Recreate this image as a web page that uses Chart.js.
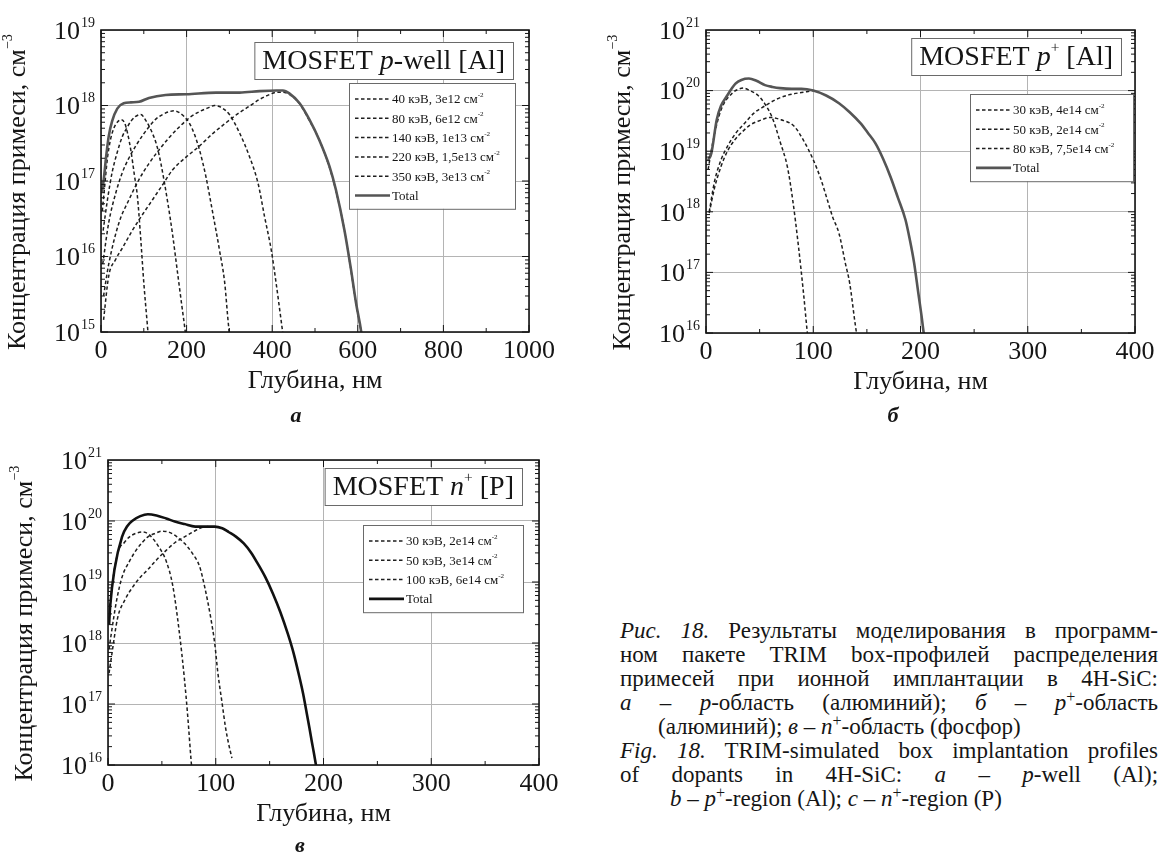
<!DOCTYPE html>
<html>
<head>
<meta charset="utf-8">
<script src="https://cdn.jsdelivr.net/npm/chart.js@4.4.1/dist/chart.umd.min.js"></script>
<style>
  body { margin: 0; background: #fff; width: 1160px; height: 855px; position: relative; overflow: hidden;
         font-family: "Liberation Serif", "Times New Roman", serif; color: #151515; }
  canvas { position: absolute; }
  #chartA { left: 0; top: 0; }
  #chartB { left: 580px; top: 0; }
  #chartC { left: 0; top: 430px; }
  .sub { position: absolute; font-weight: bold; font-style: italic; font-size: 22px; transform: translate(-50%, -50%); }
  .caption { position: absolute; left: 620px; top: 619px; width: 538px; font-size: 23px; line-height: 24px; }
  .caption div { text-align: justify; text-align-last: justify; white-space: nowrap; }
  .caption div.ind5 { text-align-last: left; padding-left: 38px; }
  .caption div.ind8 { text-align-last: left; padding-left: 50px; }
  .caption sup { font-size: 0.7em; line-height: 0; vertical-align: 0.5em; }
</style>
</head>
<body>
<canvas id="chartA" width="560" height="430"></canvas>
<canvas id="chartB" width="580" height="430"></canvas>
<canvas id="chartC" width="580" height="425"></canvas>

<div class="sub" style="left:296px;top:415px">а</div>
<div class="sub" style="left:893px;top:415px">б</div>
<div class="sub" style="left:300px;top:845px">в</div>

<div class="caption">
  <div><i>Рис. 18.</i> Результаты моделирования в программ-</div>
  <div>ном пакете TRIM box-профилей распределения</div>
  <div>примесей при ионной имплантации в 4H-SiC:</div>
  <div><i>а</i> – <i>p</i>-область (алюминий); <i>б</i> – <i>p</i><sup>+</sup>-область</div>
  <div class="ind5">(алюминий); <i>в</i> – <i>n</i><sup>+</sup>-область (фосфор)</div>
  <div><i>Fig. 18.</i> TRIM-simulated box implantation profiles</div>
  <div>of dopants in 4H-SiC: <i>a</i> – <i>p</i>-well (Al);</div>
  <div class="ind8"><i>b</i> – <i>p</i><sup>+</sup>-region (Al); <i>c</i> – <i>n</i><sup>+</sup>-region (P)</div>
</div>

<script>
// ---------- данные: график а (p-well, Al) ----------
const aDepth40 = [3, 8, 15, 22, 30, 38, 47, 55, 62, 70, 78, 85, 92, 100, 108, 112];
const aConc40 = [4.0e16, 7.9e16, 2.0e17, 3.5e17, 5.0e17, 6.0e17, 6.5e17, 5.9e17, 4.3e17, 2.5e17, 1.2e17, 6.3e16, 2.0e16, 4.5e15, 1.3e15, 7.0e14];

const aDepth80 = [5, 15, 26, 38, 50, 60, 70, 80, 93, 105, 120, 130, 140, 155, 167, 179, 189, 197, 200];
const aConc80 = [2.2e16, 5.6e16, 1.3e17, 2.4e17, 3.9e17, 5.0e17, 6.2e17, 7.1e17, 7.6e17, 6.3e17, 4.3e17, 3.0e17, 1.7e17, 5.6e16, 2.0e16, 6.0e15, 2.2e15, 1.0e15, 7.0e14];

const aDepth140 = [4, 18, 35, 50, 65, 81, 97, 112, 128, 144, 160, 171, 185, 206, 218, 230, 245, 261, 277, 289, 296, 302];
const aConc140 = [7.9e15, 2.8e16, 7.1e16, 1.3e17, 2.0e17, 2.9e17, 4.0e17, 5.2e17, 6.6e17, 7.6e17, 8.3e17, 8.5e17, 7.9e17, 5.9e17, 4.2e17, 2.6e17, 1.15e17, 3.8e16, 1.2e16, 4.5e15, 1.6e15, 7.0e14];

const aDepth220 = [6, 18, 42, 65, 89, 112, 136, 160, 183, 207, 230, 250, 265, 280, 300, 324, 347, 367, 382, 398, 409, 421, 428];
const aConc220 = [3.0e15, 7.9e15, 2.8e16, 5.6e16, 1.05e17, 1.7e17, 2.6e17, 3.8e17, 5.2e17, 6.9e17, 8.3e17, 9.3e17, 1.0e18, 9.5e17, 7.6e17, 4.3e17, 2.1e17, 9.3e16, 3.4e16, 1.2e16, 4.5e15, 1.4e15, 7.0e14];

const aDepth350 = [6, 18, 34, 50, 73, 97, 120, 145, 167, 200, 230, 260, 292, 320, 347, 370, 394, 410, 425, 440, 464, 487, 510, 534, 549, 569, 584, 596, 608, 612];
const aConc350 = [1.45e15, 5.5e15, 9.1e15, 1.3e16, 2.2e16, 3.6e16, 5.6e16, 9.1e16, 1.4e17, 2.1e17, 2.9e17, 4.2e17, 5.9e17, 7.8e17, 9.8e17, 1.2e18, 1.4e18, 1.5e18, 1.5e18, 1.4e18, 1.05e18, 6.3e17, 3.5e17, 1.5e17, 7.4e16, 2.2e16, 6.6e15, 2.3e15, 1.0e15, 7.0e14];

const aDepthTotal = [2, 6, 12, 18, 26, 38, 53, 70, 89, 112, 151, 200, 269, 324, 371, 410, 425, 440, 464, 487, 510, 534, 549, 569, 584, 596, 608, 612];
const aConcTotal = [7.1e16, 1.0e17, 2.1e17, 3.9e17, 6.2e17, 9.1e17, 1.07e18, 1.1e18, 1.12e18, 1.26e18, 1.38e18, 1.41e18, 1.48e18, 1.48e18, 1.55e18, 1.58e18, 1.58e18, 1.45e18, 1.07e18, 6.5e17, 3.5e17, 1.55e17, 7.6e16, 2.2e16, 6.8e15, 2.4e15, 1.0e15, 6.3e14];

const aLabels = ['40 кэВ, 3e12 см^-2', '80 кэВ, 6e12 см^-2', '140 кэВ, 1e13 см^-2', '220 кэВ, 1,5e13 см^-2', '350 кэВ, 3e13 см^-2', 'Total'];
const aXTicks = [0, 200, 400, 600, 800, 1000];
const aYTicks = [1e15, 1e16, 1e17, 1e18, 1e19];

// ---------- данные: график б (p+, Al) ----------
const bDepth30 = [2, 7, 14, 24, 30, 35, 41, 48, 55, 62, 69, 76, 81, 86, 91, 94.5, 97];
const bConc30 = [5.0e18, 1.6e19, 4.8e19, 8.9e19, 1.05e20, 1.1e20, 1.0e20, 8.5e19, 6.0e19, 3.5e19, 1.45e19, 5.4e18, 1.5e18, 2.9e17, 4.4e16, 1.0e16, 4.0e15];

const bDepth50 = [3, 8, 14, 20, 27, 34, 41, 50, 60, 70, 82, 91, 100, 107, 113, 118, 124, 130, 134, 139, 142];
const bConc50 = [9.5e17, 2.5e18, 5.6e18, 1.0e19, 1.55e19, 2.1e19, 2.7e19, 3.2e19, 3.6e19, 3.3e19, 2.6e19, 1.5e19, 7.2e18, 3.5e18, 1.6e18, 8.3e17, 4.4e17, 1.4e17, 6.6e16, 1.45e16, 6.3e15];

const bDepth80 = [3, 8, 14, 20, 27, 36, 45, 55, 65, 77, 89, 97, 100];
const bConc80 = [1.0e18, 3.2e18, 7.2e18, 1.2e19, 1.9e19, 2.9e19, 4.3e19, 5.6e19, 7.1e19, 8.5e19, 9.3e19, 9.8e19, 1.0e20];

const bDepthTotal = [2, 5, 10, 14, 19, 27.5, 33, 40, 47, 55, 62, 69, 80, 89, 100, 112, 124, 134, 144, 151, 158, 165, 172, 179, 186, 190, 194, 198, 201, 203, 205];
const bConcTotal = [7.1e18, 9.3e18, 3.3e19, 5.6e19, 7.9e19, 1.3e20, 1.5e20, 1.58e20, 1.45e20, 1.23e20, 1.15e20, 1.1e20, 1.07e20, 1.07e20, 1.0e20, 8.3e19, 6.2e19, 4.4e19, 2.9e19, 2.0e19, 1.35e19, 7.6e18, 3.8e18, 1.7e18, 7.4e17, 3.5e17, 1.45e17, 4.5e16, 1.9e16, 1.0e16, 6.3e15];

const bLabels = ['30 кэВ, 4e14 см^-2', '50 кэВ, 2e14 см^-2', '80 кэВ, 7,5e14 см^-2', 'Total'];
const bXTicks = [0, 100, 200, 300, 400];
const bYTicks = [1e16, 1e17, 1e18, 1e19, 1e20, 1e21];

// ---------- данные: график в (n+, P) ----------
const cDepth30 = [1, 3, 9, 15, 20, 26, 32, 38, 47, 54, 60, 66, 71, 74, 77, 79];
const cConc30 = [2.5e18, 6.5e18, 3.0e19, 4.4e19, 5.5e19, 6.3e19, 6.6e19, 6.0e19, 3.8e19, 2.2e19, 8.9e18, 1.6e18, 2.5e17, 6.3e16, 1.26e16, 5.0e15];

const cDepth50 = [1, 3, 8, 13, 20, 26, 32, 37, 44, 50, 57, 64, 71, 78, 85, 90, 95, 99, 102, 106, 109, 112, 115];
const cConc50 = [7.9e17, 1.4e18, 5.0e18, 1.2e19, 2.2e19, 3.3e19, 4.5e19, 5.5e19, 6.3e19, 6.8e19, 6.5e19, 5.5e19, 4.3e19, 3.0e19, 1.8e19, 7.9e18, 2.8e18, 1.0e18, 3.2e17, 1.0e17, 4.2e16, 2.2e16, 1.3e16];

const cDepth100 = [1, 3, 9, 16, 23, 30, 37, 45, 54, 62, 71, 80, 88, 93];
const cConc100 = [3.2e17, 5.6e17, 2.6e18, 5.2e18, 8.3e18, 1.2e19, 1.6e19, 2.3e19, 3.3e19, 4.4e19, 5.5e19, 6.8e19, 7.9e19, 8.1e19];

const cDepthTotal = [1, 2, 6, 13, 18, 23, 30, 37, 45, 54, 62, 71, 81, 90, 99, 106, 112, 119, 126, 133, 139, 146, 153, 160, 167, 172, 177, 181, 184, 187, 189, 191, 193, 195];
const cConcTotal = [2.0e18, 4.0e18, 1.6e19, 5.5e19, 8.3e19, 1.02e20, 1.2e20, 1.29e20, 1.23e20, 1.1e20, 9.8e19, 8.9e19, 8.1e19, 8.1e19, 8.1e19, 7.6e19, 6.6e19, 5.5e19, 4.3e19, 3.0e19, 2.0e19, 1.2e19, 6.5e18, 3.2e18, 1.4e18, 7.1e17, 3.1e17, 1.5e17, 7.8e16, 4.0e16, 2.5e16, 1.6e16, 1.0e16, 6.3e15];

const cLabels = ['30 кэВ, 2e14 см^-2', '50 кэВ, 3e14 см^-2', '100 кэВ, 6e14 см^-2', 'Total'];
const cXTicks = [0, 100, 200, 300, 400];
const cYTicks = [1e16, 1e17, 1e18, 1e19, 1e20, 1e21];

// ---------- оформление ----------
const FONT = '"Liberation Serif", "Times New Roman", serif';
Chart.defaults.font.family = FONT;

// геометрия каждой панели (в пикселях канваса)
const panels = {
  chartA: { plot: [101, 30, 529, 332], title: [16, 12], legend: [14, 53, 166],
            titleRuns: [{ t: 'MOSFET ' }, { t: 'p', it: true }, { t: '-well [Al]' }] },
  chartB: { plot: [126, 30, 555, 333], title: [14, 8], legend: [2, 64, 163],
            titleRuns: [{ t: 'MOSFET ' }, { t: 'p', it: true }, { t: '+', sup: true }, { t: ' [Al]' }] },
  chartC: { plot: [108, 30, 539, 335], title: [17, 8], legend: [16, 65, 160],
            titleRuns: [{ t: 'MOSFET ' }, { t: 'n', it: true }, { t: '+', sup: true }, { t: ' [P]' }] }
};

function runsWidth(ctx, runs, size) {
  let w = 0;
  for (const r of runs) {
    ctx.font = (r.it ? 'italic ' : '') + (r.sup ? size * 0.55 : size) + 'px ' + FONT;
    w += ctx.measureText(r.t).width;
  }
  return w;
}

function drawRuns(ctx, runs, x, y, size) {
  let cx = x;
  ctx.textAlign = 'left';
  ctx.textBaseline = 'middle';
  for (const r of runs) {
    ctx.font = (r.it ? 'italic ' : '') + (r.sup ? size * 0.55 : size) + 'px ' + FONT;
    ctx.fillText(r.t, cx, r.sup ? y - size * 0.36 : y);
    cx += ctx.measureText(r.t).width;
  }
}

function labelRuns(label) {
  const parts = label.split('^');
  const runs = [{ t: parts[0] }];
  if (parts[1]) runs.push({ t: parts[1], sup: true });
  return runs;
}

function seg(ctx, x1, y1, x2, y2) {
  ctx.beginPath(); ctx.moveTo(x1, y1); ctx.lineTo(x2, y2); ctx.stroke();
}

// рамка, внутренние засечки, подписи осей, заголовок и легенда
const decorPlugin = {
  id: 'decor',
  afterDraw(chart) {
    const cfg = panels[chart.canvas.id];
    const ctx = chart.ctx;
    const A = chart.chartArea;
    const xs = chart.scales.x, ys = chart.scales.y;
    ctx.save();
    ctx.fillStyle = '#151515';
    ctx.strokeStyle = '#151515';

    // засечки по Y (декады и промежуточные)
    ctx.lineWidth = 1;
    const e0 = Math.round(Math.log10(ys.min)), e1 = Math.round(Math.log10(ys.max));
    for (let e = e0; e < e1; e++) {
      for (let m = 1; m < 10; m++) {
        const py = ys.getPixelForValue(m * Math.pow(10, e));
        const len = m === 1 ? 7 : 4;
        seg(ctx, A.left, py, A.left + len, py);
        seg(ctx, A.right, py, A.right - len, py);
      }
    }
    // засечки по X
    const step = xs.ticks[1].value - xs.ticks[0].value;
    for (let v = xs.min; v <= xs.max; v += step / 2) {
      const px = xs.getPixelForValue(v);
      const len = Math.abs(v % step) < 1e-6 ? 7 : 4;
      seg(ctx, px, A.bottom, px, A.bottom - len);
      seg(ctx, px, A.top, px, A.top + len);
    }
    // рамка
    ctx.lineWidth = 1.6;
    ctx.strokeRect(A.left, A.top, A.right - A.left, A.bottom - A.top);

    // подписи 10^n
    for (let e = e0; e <= e1; e++) {
      const py = ys.getPixelForValue(Math.pow(10, e));
      ctx.font = '26px ' + FONT;
      const w10 = ctx.measureText('10').width;
      drawRuns(ctx, [{ t: '10' }], A.left - 21 - w10, py + 2, 26);
      ctx.font = '14px ' + FONT;
      ctx.textAlign = 'left';
      ctx.fillText(String(e), A.left - 20, py - 7);
    }

    // название оси Y
    const yRuns = [{ t: 'Концентрация примеси, см' }, { t: '−3', sup: true }];
    const yw = runsWidth(ctx, yRuns, 26);
    ctx.save();
    ctx.translate(A.left - 83, (A.top + A.bottom) / 2 + 11);
    ctx.rotate(-Math.PI / 2);
    drawRuns(ctx, yRuns, -yw / 2, 0, 26);
    ctx.restore();

    // название оси X
    ctx.font = '26px ' + FONT;
    ctx.textAlign = 'center';
    ctx.textBaseline = 'middle';
    ctx.fillText('Глубина, нм', (A.left + A.right) / 2, A.bottom + 49);

    // рамка с заголовком
    const tw = runsWidth(ctx, cfg.titleRuns, 28);
    const tRight = A.right - cfg.title[0], tTop = A.top + cfg.title[1];
    const tLeft = tRight - tw - 16;
    ctx.fillStyle = '#fff';
    ctx.fillRect(tLeft, tTop, tw + 16, 37);
    ctx.strokeStyle = '#6a6a6a';
    ctx.lineWidth = 1;
    ctx.strokeRect(tLeft + 0.5, tTop + 0.5, tw + 16, 37);
    ctx.fillStyle = '#151515';
    drawRuns(ctx, cfg.titleRuns, tLeft + 8, tTop + 20, 28);

    // легенда
    const ds = chart.data.datasets;
    const lw = cfg.legend[2], lh = ds.length * 19.3 + 10;
    const lRight = A.right - cfg.legend[0], lTop = A.top + cfg.legend[1];
    const lLeft = lRight - lw;
    ctx.fillStyle = '#fff';
    ctx.fillRect(lLeft, lTop, lw, lh);
    ctx.strokeStyle = '#6a6a6a';
    ctx.strokeRect(lLeft + 0.5, lTop + 0.5, lw, lh);
    ds.forEach((d, i) => {
      const ry = lTop + 16 + i * 19.3;
      ctx.strokeStyle = d.borderColor;
      ctx.lineWidth = d.borderWidth;
      ctx.setLineDash(d.borderDash || []);
      seg(ctx, lLeft + 6, ry, lLeft + 41, ry);
      ctx.setLineDash([]);
      ctx.fillStyle = '#151515';
      drawRuns(ctx, labelRuns(d.label), lLeft + 43, ry + 1, 13);
    });
    ctx.restore();
  }
};

function curve(label, depth, conc, totalColor) {
  const isTotal = !!totalColor;
  return {
    label: label,
    data: depth.map((x, i) => ({ x: x, y: conc[i] })),
    borderColor: isTotal ? totalColor : '#1e1e1e',
    borderWidth: isTotal ? 2.6 : 1.5,
    borderDash: isTotal ? [] : [3.5, 2.5],
    order: isTotal ? 0 : 1,
    pointRadius: 0,
    fill: false,
    cubicInterpolationMode: 'monotone'
  };
}

function makeChart(id, datasets, xTicks, yTicks) {
  const p = panels[id].plot;
  const canvas = document.getElementById(id);
  const W = canvas.width, H = canvas.height;
  return new Chart(canvas, {
    type: 'line',
    data: { datasets: datasets },
    plugins: [decorPlugin],
    options: {
      responsive: false,
      devicePixelRatio: 1,
      animation: false,
      layout: { padding: { left: 0, top: p[1], right: W - p[2], bottom: 0 } },
      plugins: { legend: { display: false }, tooltip: { enabled: false } },
      scales: {
        x: {
          type: 'linear',
          min: xTicks[0],
          max: xTicks[xTicks.length - 1],
          afterBuildTicks: (s) => { s.ticks = xTicks.map(v => ({ value: v })); },
          afterFit: (s) => { s.height = H - p[3]; },
          grid: { color: '#b4b4b4', lineWidth: 1, drawTicks: false },
          border: { display: false },
          ticks: { padding: 4, color: '#151515', font: { size: 26 }, maxRotation: 0, autoSkip: false,
                   callback: (v) => String(v) }
        },
        y: {
          type: 'logarithmic',
          min: yTicks[0],
          max: yTicks[yTicks.length - 1],
          afterBuildTicks: (s) => { s.ticks = yTicks.map(v => ({ value: v, major: true })); },
          afterFit: (s) => { s.width = p[0]; },
          grid: { color: '#b4b4b4', lineWidth: 1, drawTicks: false },
          border: { display: false },
          ticks: { display: false }
        }
      }
    }
  });
}

makeChart('chartA', [
  curve(aLabels[0], aDepth40, aConc40),
  curve(aLabels[1], aDepth80, aConc80),
  curve(aLabels[2], aDepth140, aConc140),
  curve(aLabels[3], aDepth220, aConc220),
  curve(aLabels[4], aDepth350, aConc350),
  curve(aLabels[5], aDepthTotal, aConcTotal, '#555555')
], aXTicks, aYTicks);

makeChart('chartB', [
  curve(bLabels[0], bDepth30, bConc30),
  curve(bLabels[1], bDepth50, bConc50),
  curve(bLabels[2], bDepth80, bConc80),
  curve(bLabels[3], bDepthTotal, bConcTotal, '#555555')
], bXTicks, bYTicks);

makeChart('chartC', [
  curve(cLabels[0], cDepth30, cConc30),
  curve(cLabels[1], cDepth50, cConc50),
  curve(cLabels[2], cDepth100, cConc100),
  curve(cLabels[3], cDepthTotal, cConcTotal, '#111111')
], cXTicks, cYTicks);
</script>
</body>
</html>
